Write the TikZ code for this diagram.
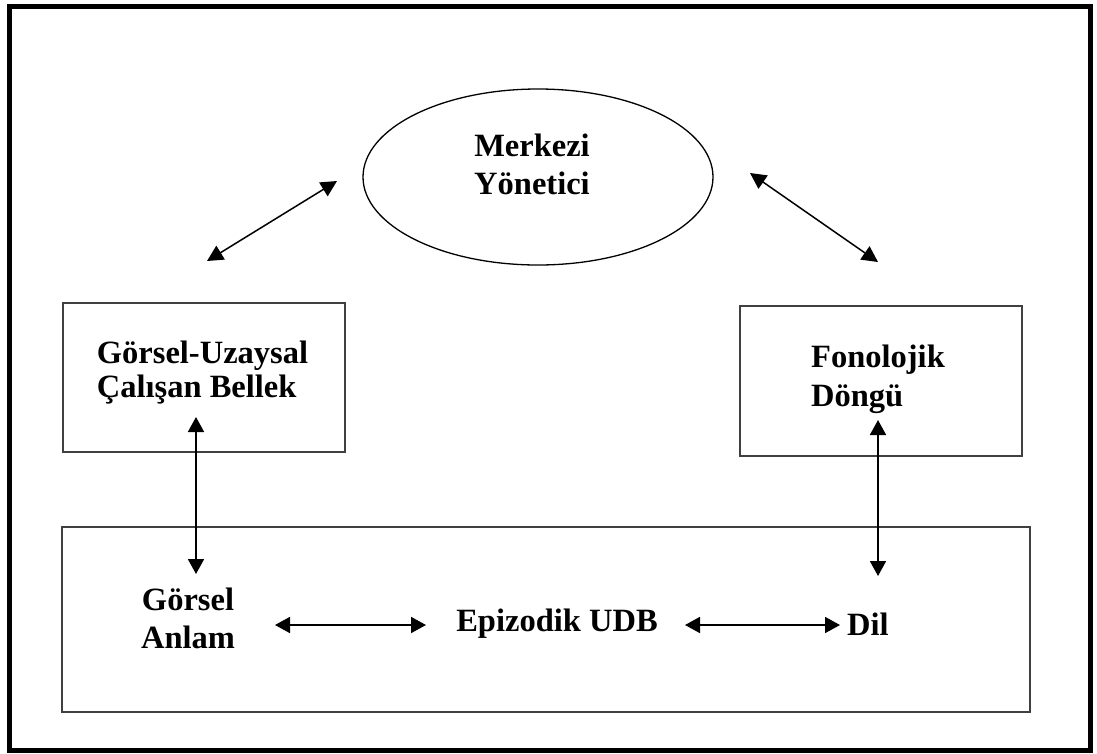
\documentclass[tikz,border=0pt]{standalone}
\usepackage{fontspec}
\setmainfont{Liberation Serif}
\usetikzlibrary{arrows.meta,shapes.geometric}

\tikzset{
  lbl/.style={font=\bfseries\fontsize{32.5}{38}\selectfont, inner sep=0pt, align=center},
  lblleft/.style={lbl, align=left},
  boxnode/.style={draw=black!75, line width=1.3pt, inner sep=0pt},
  dblarrow/.style={line width=1.8pt, {Triangle[length=15pt,width=16pt]}-{Triangle[length=15pt,width=16pt]}},
  diagarrow/.style={line width=1.5pt, {Triangle[length=16pt,width=16pt]}-{Triangle[length=16pt,width=16pt]}}
}

\begin{document}
\begin{tikzpicture}[x=1pt,y=-1pt]
  \useasboundingbox (0,0) rectangle (1097,753);
  \fill[white] (0,0) rectangle (1097,753);

  % frame
  \draw[line width=5pt] (9.5,6.5) rectangle (1090,750);

  % central executive
  \node[ellipse, draw, line width=1.3pt, minimum width=350pt, minimum height=176pt, inner sep=0pt] (mz) at (538,177) {};
  \node[lbl] (mzt) at (532,164) {Merkezi\\Yönetici};

  % slave systems
  \node[boxnode, minimum width=282pt, minimum height=149pt] (vs) at (204,377.5) {};
  \node[lblleft, font=\bfseries\fontsize{32.5}{34}\selectfont] (vst) at (202.5,373) {Görsel-Uzaysal\\Çalışan Bellek};

  \node[boxnode, minimum width=282pt, minimum height=150pt] (pl) at (881,381) {};
  \node[lblleft, font=\bfseries\fontsize{32.5}{39}\selectfont] (plt) at (878,379) {Fonolojik\\Döngü};

  % episodic buffer
  \node[boxnode, minimum width=968pt, minimum height=185pt] (eb) at (546,619.5) {};
  \node[lbl] (ga) at (188,618) {Görsel\\Anlam};
  \node[lbl] (ep) at (557,624) {Epizodik UDB};
  \node[lbl] (dl) at (868,624) {Dil};

  % arrow end points
  \coordinate (a1) at (207,261);
  \coordinate (a2) at (337,181);
  \coordinate (b1) at (750,173);
  \coordinate (b2) at (878,262);
  \coordinate (c1) at (196,417);
  \coordinate (c2) at (196,574);
  \coordinate (d1) at (878,420);
  \coordinate (d2) at (878,576);
  \coordinate (e1) at (275,625);
  \coordinate (e2) at (426,625);
  \coordinate (f1) at (685,625);
  \coordinate (f2) at (840,625);

  \draw[diagarrow] (a1) -- (a2);
  \draw[diagarrow] (b1) -- (b2);
  \draw[dblarrow] (c1) -- (c2);
  \draw[dblarrow] (d1) -- (d2);
  \draw[dblarrow] (e1) -- (e2);
  \draw[dblarrow] (f1) -- (f2);
\end{tikzpicture}
\end{document}
